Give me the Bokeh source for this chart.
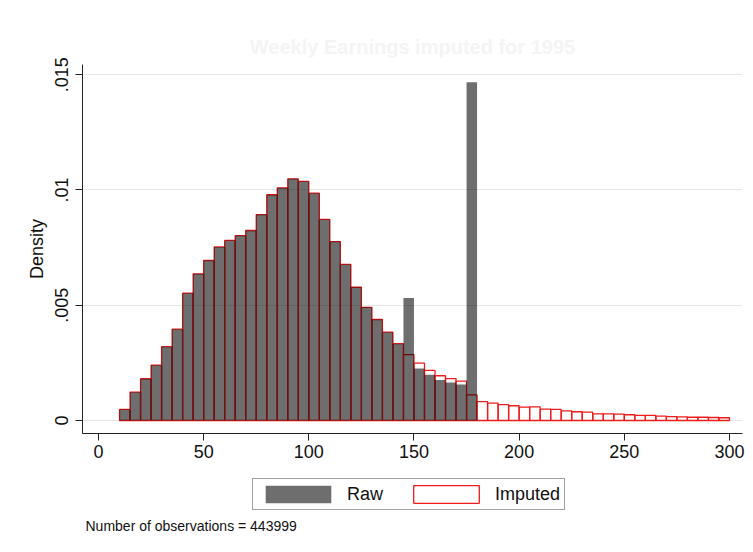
import numpy as np
from bokeh.plotting import figure
from bokeh.layouts import column
from bokeh.models import (Range1d, FixedTicker, Legend, LegendItem, Label, ColumnDataSource)
from bokeh.embed import file_html
from bokeh.resources import INLINE

# Histogram bins (width 5, starting at 10)
bin_start = 10
bin_width = 5

# Raw density, bins 10-180
raw_density = [0.00048, 0.00123, 0.00181, 0.00240, 0.00320, 0.00396, 0.00552, 0.00636,
               0.00694, 0.00753, 0.00781, 0.00802, 0.00824, 0.00893, 0.00979, 0.01009,
               0.01048, 0.01037, 0.00986, 0.00872, 0.00776, 0.00677, 0.00578, 0.00491,
               0.00438, 0.00383, 0.00333, 0.00531, 0.00226, 0.00198, 0.00176, 0.00165,
               0.00156, 0.01467]

# Imputed density, bins 10-300
imputed_density = [0.00048, 0.00123, 0.00181, 0.00240, 0.00320, 0.00396, 0.00552, 0.00636,
                   0.00694, 0.00753, 0.00781, 0.00802, 0.00824, 0.00893, 0.00979, 0.01009,
                   0.01048, 0.01037, 0.00986, 0.00872, 0.00776, 0.00677, 0.00578, 0.00491,
                   0.00438, 0.00383, 0.00333, 0.00286, 0.00249, 0.00217, 0.00194, 0.00182,
                   0.00171, 0.00111, 0.00082, 0.00075, 0.00069, 0.00064, 0.00058, 0.00059,
                   0.00049, 0.00048, 0.00042, 0.00038, 0.00036, 0.00029, 0.00029, 0.00028,
                   0.00025, 0.00022, 0.00022, 0.00019, 0.00017, 0.00016, 0.00014, 0.00014,
                   0.00013, 0.00012]

x_ticks = [0, 50, 100, 150, 200, 250, 300]
y_ticks = [0, 0.005, 0.01, 0.015]
y_tick_labels = {0: "0", 0.005: ".005", 0.01: ".01", 0.015: ".015"}

title_text = "Weekly Earnings imputed for 1995"
note_text = "Number of observations = 443999"

FONT = "Liberation Sans"
RAW_STYLE = dict(fill_color="black", fill_alpha=0.57, line_color=None)
IMP_STYLE = dict(fill_color=None, line_color="#ee1c1c", line_width=1.3)


def bins(values):
    left = bin_start + bin_width * np.arange(len(values))
    return ColumnDataSource(dict(left=left, right=left + bin_width,
                                 top=np.array(values), bottom=np.zeros(len(values))))


# ---- main histogram panel ----
p = figure(width=753, height=470, output_backend="svg", toolbar_location=None,
           x_range=Range1d(-7.6, 306.2), y_range=Range1d(-0.000564, 0.01544),
           min_border_left=82, min_border_right=11, min_border_top=64, min_border_bottom=37)

p.outline_line_color = None
p.background_fill_color = "white"
p.border_fill_color = "white"

p.title.text = title_text
p.title.align = "center"
p.title.text_color = "#f4f4f4"
p.title.text_font = FONT
p.title.text_font_size = "20px"
p.title.text_font_style = "bold"
p.title.standoff = 14

p.quad(left="left", right="right", top="top", bottom="bottom",
       source=bins(imputed_density), **IMP_STYLE)
p.quad(left="left", right="right", top="top", bottom="bottom",
       source=bins(raw_density), **RAW_STYLE)

p.xgrid.visible = False
p.ygrid.ticker = FixedTicker(ticks=y_ticks)
p.ygrid.grid_line_color = "#e6e6e6"
p.ygrid.grid_line_width = 1

for ax in (p.xaxis[0], p.yaxis[0]):
    ax.axis_line_color = "#222222"
    ax.major_tick_line_color = "#222222"
    ax.major_tick_out = 7
    ax.major_tick_in = 0
    ax.minor_tick_line_color = None
    ax.major_label_text_font = FONT
    ax.major_label_text_font_size = "18px"
    ax.major_label_text_color = "#111111"
    ax.axis_label_text_font = FONT
    ax.axis_label_text_font_size = "18px"
    ax.axis_label_text_font_style = "normal"
    ax.axis_label_text_color = "#111111"

p.xaxis.ticker = FixedTicker(ticks=x_ticks)
p.xaxis.major_label_standoff = 4
p.yaxis.ticker = FixedTicker(ticks=y_ticks)
p.yaxis.major_label_overrides = y_tick_labels
p.yaxis.major_label_orientation = "vertical"
p.yaxis.major_label_standoff = 7
p.yaxis.axis_label = "Density"
p.yaxis.axis_label_standoff = 6

# ---- legend and note panel (frame aligned with the histogram's frame) ----
q = figure(width=753, height=82, output_backend="svg", toolbar_location=None,
           x_range=Range1d(0, 1), y_range=Range1d(0, 1),
           min_border=0, x_axis_type=None, y_axis_type=None)
q.outline_line_color = None
q.xgrid.visible = False
q.ygrid.visible = False
q.border_fill_color = "white"

# legend key glyphs: one quad each, placed outside the visible range
key = dict(left=[2], right=[3], top=[3], bottom=[2])
raw_key = q.quad(left="left", right="right", top="top", bottom="bottom",
                 source=ColumnDataSource(dict(key)), **RAW_STYLE)
imp_key = q.quad(left="left", right="right", top="top", bottom="bottom",
                 source=ColumnDataSource(dict(key)), **IMP_STYLE)

legend = Legend(items=[LegendItem(label="Raw", renderers=[raw_key]),
                       LegendItem(label="Imputed", renderers=[imp_key])],
                orientation="horizontal", location=(170, 42),
                glyph_width=82, glyph_height=22, label_standoff=8, spacing=22,
                padding=4, margin=0,
                label_text_font=FONT, label_text_font_size="18px", label_text_color="#111111",
                border_line_color="#444444", border_line_width=1,
                background_fill_color="white", background_fill_alpha=1)
q.add_layout(legend, "center")

q.add_layout(Label(x=3, y=19, x_units="screen", y_units="screen", text=note_text,
                   text_font=FONT, text_font_size="14px", text_color="#111111"))

open("out.html", "w").write(file_html(column(p, q, spacing=0), INLINE))
